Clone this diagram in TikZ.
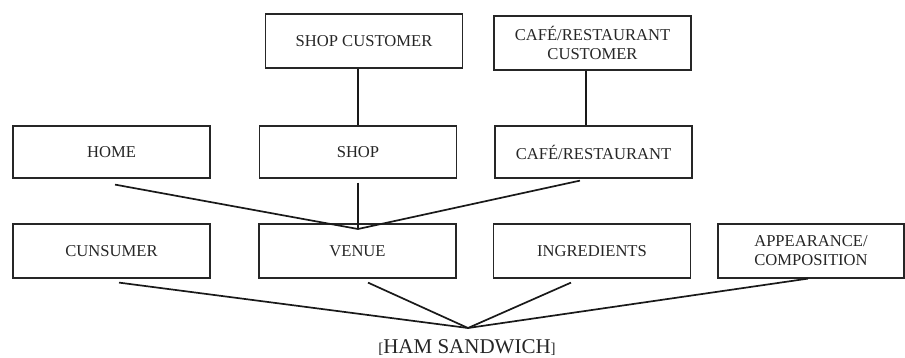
\documentclass[tikz,border=0pt]{standalone}
\usepackage{fontspec}
\setmainfont{Liberation Serif}
\begin{document}
\begin{tikzpicture}[x=1pt,y=-1pt,
  box/.style={draw=black!85,line width=1.2pt,rectangle,minimum height=54pt,minimum width=197pt,
    inner sep=0pt,align=center,font=\fontsize{16.6}{19}\selectfont,text=black!85},
  conn/.style={draw=black!90,line width=1.7pt}]
\useasboundingbox (0,0) rectangle (905,357);
\node[box] (shopcust) at (364,41) {SHOP CUSTOMER};
\node[box] (cafecust) at (592.5,43) {CAFÉ/RESTAURANT\\CUSTOMER};
\node[box,minimum height=52pt] (home) at (111.5,152) {HOME};
\node[box,minimum height=52pt] (shop) at (358,152) {SHOP};
\node[box,minimum height=52pt] (cafe) at (593.5,152) {CAFÉ/RESTAURANT};
\node[box] (cons) at (111.5,251) {CUNSUMER};
\node[box] (venue) at (357.5,251) {VENUE};
\node[box] (ingr) at (592,251) {INGREDIENTS};
\node[box,minimum width=186pt] (app) at (811,251) {APPEARANCE/\\COMPOSITION};
\node[anchor=base,inner sep=0pt,font=\fontsize{21}{21}\selectfont,text=black!85] (ham) at (467,353)
  {{\fontsize{15}{15}\selectfont[}HAM SANDWICH{\fontsize{15}{15}\selectfont]}};
\coordinate (vj) at (358,229);
\coordinate (hj) at (468,328);
\draw[conn] (shopcust.south -| shop.north) -- (shop.north);
\draw[conn] ([xshift=-6.5pt]cafecust.south) -- ([xshift=-7.5pt]cafe.north);
\draw[conn] ([shift={(3.5,6)}]home.south) -- (vj);
\draw[conn] ([shift={(0,4)}]shop.south) -- (vj);
\draw[conn] ([shift={(-13.5,2)}]cafe.south) -- (vj);
\draw[conn] ([shift={(7.5,4)}]cons.south) -- (hj);
\draw[conn] ([shift={(10.5,4)}]venue.south) -- (hj);
\draw[conn] ([shift={(-21,4)}]ingr.south) -- (hj);
\draw[conn] ([shift={(-3,0)}]app.south) -- (hj);
\end{tikzpicture}
\end{document}
